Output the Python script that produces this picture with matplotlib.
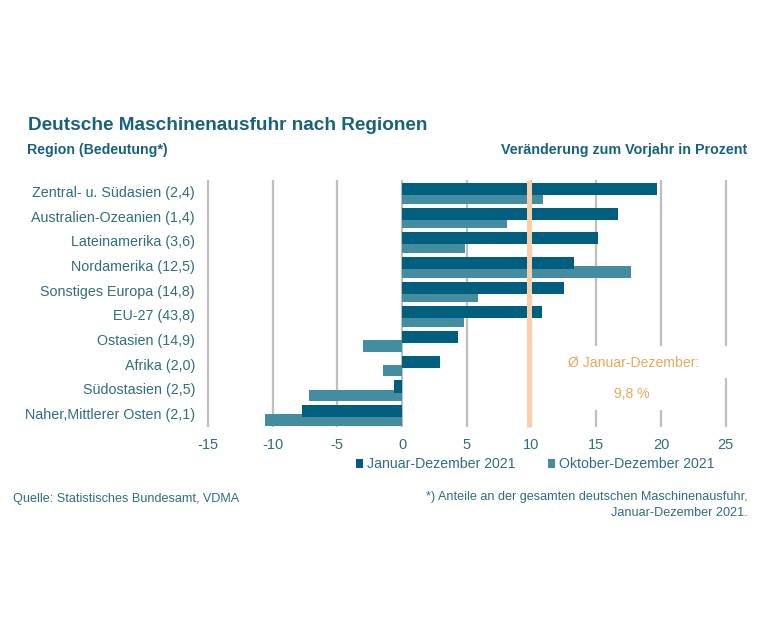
import matplotlib
matplotlib.use("Agg")
import matplotlib.pyplot as plt
from matplotlib.patches import Rectangle
from matplotlib.transforms import ScaledTranslation
import numpy as np

plt.rcParams["font.family"] = ["Liberation Sans", "DejaVu Sans"]
plt.rcParams["axes.unicode_minus"] = False

regions = [
    "Zentral- u. Südasien (2,4)",
    "Australien-Ozeanien (1,4)",
    "Lateinamerika (3,6)",
    "Nordamerika (12,5)",
    "Sonstiges Europa (14,8)",
    "EU-27 (43,8)",
    "Ostasien (14,9)",
    "Afrika (2,0)",
    "Südostasien (2,5)",
    "Naher,Mittlerer Osten (2,1)",
]
jan_dez = [19.7, 16.7, 15.1, 13.3, 12.5, 10.8, 4.35, 2.9, -0.65, -7.7]
okt_dez = [10.9, 8.1, 4.9, 17.7, 5.9, 4.8, -3.0, -1.5, -7.2, -10.6]
average = 9.8
x_ticks = [-15, -10, -5, 0, 5, 10, 15, 20, 25]

DARK = "#005f7f"
LIGHT = "#448ca0"
TEXT = "#2f6e80"
HEAD = "#17637d"
ORANGE = "#e8a958"

W, H = 760, 633
fig = plt.figure(figsize=(W / 100, H / 100), dpi=100)

# axes box in pixels, -15 to 25 and the ten category rows
left, right, top, bottom = 207.8, 725.7, 180.0, 427.0
ax = fig.add_axes([left / W, 1 - bottom / H, (right - left) / W, (bottom - top) / H])

y = np.arange(len(regions))
ax.set_xlim(-15, 25)
ax.set_ylim(len(regions) - 0.5, -0.5)

ax.set_xticks(x_ticks)
ax.set_yticks(y)
ax.set_yticklabels(regions)
ax.tick_params(axis="x", length=0, labelsize=10.5, labelcolor=TEXT, pad=8)
ax.tick_params(axis="y", length=0, labelsize=10.3, labelcolor=TEXT, pad=9.2)
for label in ax.get_yticklabels():
    label.set_transform(label.get_transform() + ScaledTranslation(0, 1 / 100, fig.dpi_scale_trans))
ax.grid(axis="x", color="#bfbfbf", linewidth=1.6, zorder=0, clip_on=False, solid_capstyle="butt")
ax.set_axisbelow(True)
for spine in ax.spines.values():
    spine.set_visible(False)

# the light bar sits partly behind the dark one
ax.barh(y + 0.22, okt_dez, height=0.47, color=LIGHT, zorder=2, label="Oktober-Dezember 2021")
ax.barh(y - 0.14, jan_dez, height=0.49, color=DARK, zorder=3, label="Januar-Dezember 2021")
ax.axvline(average, color="#f8cfa8", linewidth=3.6, zorder=4, clip_on=False, solid_capstyle="butt")

# white boxes of the average note hide the gridlines behind them
ax.add_patch(Rectangle((11.5, 6.23), 15, 1.3, facecolor="white", edgecolor="none", zorder=1, clip_on=False))
ax.add_patch(Rectangle((14, 7.53), 8, 1.3, facecolor="white", edgecolor="none", zorder=1, clip_on=False))
ax.text(17.85, 6.91, "Ø Januar-Dezember:", color=ORANGE, fontsize=10.1, ha="center", va="center", zorder=5)
ax.text(17.75, 8.18, "9,8 %", color=ORANGE, fontsize=10.1, ha="center", va="center", zorder=5)

handles, labels = ax.get_legend_handles_labels()
ax.legend(handles[::-1], labels[::-1], ncols=2, frameon=False, fontsize=10.15, labelcolor=TEXT,
          loc="center", bbox_to_anchor=((535.3 - left) / (right - left), (bottom - 464.5) / (bottom - top)),
          handlelength=0.5, handleheight=0.5, handletextpad=0.28, columnspacing=2.3, borderpad=0, borderaxespad=0)


def px_text(px, py, s, **kw):
    fig.text(px / W, 1 - py / H, s, va="center", **kw)


px_text(27.5, 125, "Deutsche Maschinenausfuhr nach Regionen", color=HEAD, fontsize=13.68, fontweight="bold")
px_text(27, 150, "Region (Bedeutung*)", color=HEAD, fontsize=10.15, fontweight="bold")
px_text(747, 150, "Veränderung zum Vorjahr in Prozent", color=HEAD, fontsize=10.25, fontweight="bold", ha="right")
px_text(13, 499, "Quelle: Statistisches Bundesamt, VDMA", color=TEXT, fontsize=9.1)
px_text(748, 497, "*) Anteile an der gesamten deutschen Maschinenausfuhr,", color=TEXT, fontsize=9.1, ha="right")
px_text(748, 513, "Januar-Dezember 2021.", color=TEXT, fontsize=9.1, ha="right")

fig.savefig("out.png", dpi=100)
